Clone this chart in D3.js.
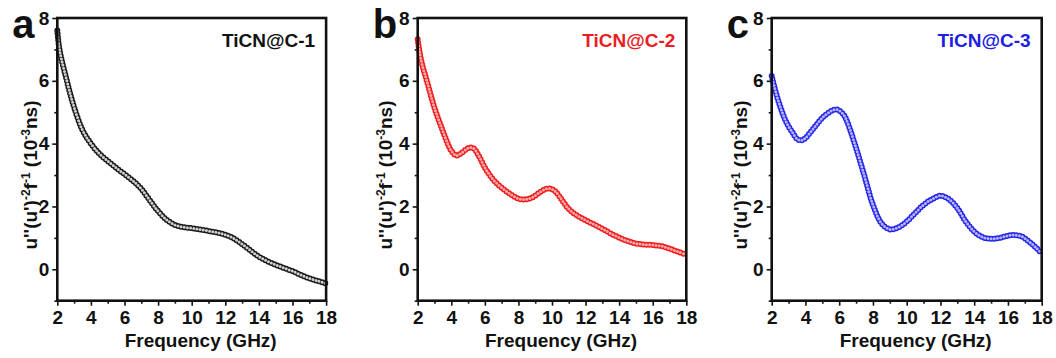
<!DOCTYPE html>
<html lang="en">
<head>
  <meta charset="utf-8">
  <title>TiCN@C</title>
  <style>
    body {
      margin: 0;
      background: #fff;
    }

    svg text {
      font-family: "Liberation Sans", Arial, sans-serif;
      font-weight: bold;
      fill: #111;
    }

    .axis .domain {
      display: none;
    }
  </style>
</head>

<body>
  <svg width="1056" height="358"></svg>
  <script src="https://d3js.org/d3.v7.min.js"></script>
  <script>
    // TiCN@C-1
    var freqA = [2, 2.1, 2.25, 2.5, 2.75, 3, 3.5, 4, 4.5, 5, 5.5, 6, 6.5, 7, 7.5, 8, 8.5, 9, 9.5, 10, 10.5, 11, 11.5, 12, 12.5, 13, 13.5, 14, 14.5, 15, 15.5, 16, 16.5, 17, 17.5, 18];
    var valA = [7.6, 7.1, 6.68, 6.15, 5.62, 5.16, 4.43, 4.0, 3.68, 3.45, 3.23, 3.03, 2.82, 2.56, 2.2, 1.85, 1.58, 1.41, 1.34, 1.31, 1.27, 1.22, 1.17, 1.1, 0.98, 0.8, 0.6, 0.4, 0.26, 0.14, 0.04, -0.06, -0.18, -0.29, -0.37, -0.45];

    // TiCN@C-2
    var freqB = [2, 2.1, 2.25, 2.5, 2.75, 3, 3.25, 3.5, 3.75, 4, 4.3, 4.6, 5, 5.3, 5.6, 6, 6.5, 7, 7.5, 8, 8.4, 8.8, 9.2, 9.6, 9.9, 10.2, 10.6, 11, 11.5, 12, 12.5, 13, 13.5, 14, 14.5, 15, 15.5, 16, 16.5, 17, 17.5, 18];
    var valB = [7.32, 6.95, 6.55, 6.08, 5.6, 5.14, 4.75, 4.4, 4.05, 3.77, 3.62, 3.7, 3.86, 3.86, 3.65, 3.24, 2.85, 2.6, 2.4, 2.25, 2.22, 2.28, 2.42, 2.55, 2.57, 2.48, 2.2, 1.92, 1.71, 1.56, 1.43, 1.29, 1.14, 1.01, 0.9, 0.82, 0.79, 0.77, 0.74, 0.66, 0.56, 0.46];

    // TiCN@C-3
    var freqC = [2, 2.25, 2.5, 2.75, 3, 3.25, 3.5, 3.75, 4, 4.5, 5, 5.5, 5.85, 6.25, 6.5, 7, 7.5, 8, 8.5, 9, 9.5, 10, 10.5, 11, 11.5, 12, 12.5, 13, 13.5, 14, 14.5, 15, 15.5, 16, 16.4, 16.8, 17.2, 17.6, 18];
    var valC = [6.15, 5.62, 5.19, 4.82, 4.55, 4.34, 4.15, 4.1, 4.18, 4.5, 4.82, 5.03, 5.09, 4.93, 4.66, 3.86, 2.96, 2.05, 1.47, 1.27, 1.33, 1.52, 1.79, 2.05, 2.23, 2.34, 2.23, 1.95, 1.52, 1.2, 1.02, 0.97, 1.0, 1.07, 1.09, 1.05, 0.9, 0.72, 0.5];

    var seriesNames = ["TiCN@C-1", "TiCN@C-2", "TiCN@C-3"];
    var panelLetters = ["a", "b", "c"];
    var xTickValues = [2, 4, 6, 8, 10, 12, 14, 16, 18];
    var yTickValues = [0, 2, 4, 6, 8];

    const svg = d3.select("svg");
    const plotTop = 18;
    const plotBottom = 300.7;

    const panels = [
      { left: 57.3, right: 326.1, freq: freqA, val: valA, edge: "#1a1a1a", fill: "#d0d0d0", label: "#111", ylabOff: 20 },
      { left: 417.7, right: 686.3, freq: freqB, val: valB, edge: "#ee1c1c", fill: "#ffaaaa", label: "#ec1c24", ylabOff: 26 },
      { left: 771.7, right: 1041.7, freq: freqC, val: valC, edge: "#2525e6", fill: "#b4b4ff", label: "#2020e0", ylabOff: 25 }
    ];

    panels.forEach(function (p, i) {
      var x = d3.scaleLinear().domain([2, 18]).range([p.left, p.right]);
      var y = d3.scaleLinear().domain([-1, 8]).range([plotBottom, plotTop]);
      var g = svg.append("g");

      // minor + major ticks, outward
      g.append("g").attr("class", "axis")
        .attr("transform", "translate(0," + plotBottom + ")")
        .call(d3.axisBottom(x).tickValues(d3.range(3, 18, 2)).tickSize(3).tickFormat(""));
      g.append("g").attr("class", "axis")
        .attr("transform", "translate(0," + plotBottom + ")")
        .call(d3.axisBottom(x).tickValues(xTickValues).tickSize(5).tickPadding(5))
        .selectAll("text").style("font-size", "19px").attr("fill", "#111");

      g.append("g").attr("class", "axis")
        .attr("transform", "translate(" + p.left + ",0)")
        .call(d3.axisLeft(y).tickValues([-1, 1, 3, 5, 7]).tickSize(3).tickFormat(""));
      g.append("g").attr("class", "axis")
        .attr("transform", "translate(" + p.left + ",0)")
        .call(d3.axisLeft(y).tickValues(yTickValues).tickSize(5).tickPadding(3))
        .selectAll("text").style("font-size", "19px").attr("fill", "#111");

      g.selectAll(".axis line").attr("stroke", "#111").attr("stroke-width", 1.6);

      // data: ring markers drawn as dotted strokes along the curve
      var pts = p.freq.map(function (f, k) { return [f, p.val[k]]; });
      var line = d3.line()
        .x(function (d) { return x(d[0]); })
        .y(function (d) { return y(d[1]); })
        .curve(d3.curveCatmullRom.alpha(0.5));

      g.append("path").datum(pts).attr("d", line)
        .attr("fill", "none").attr("stroke", p.edge)
        .attr("stroke-width", 6).attr("stroke-linecap", "round")
        .attr("stroke-dasharray", "0 3.2");
      g.append("path").datum(pts).attr("d", line)
        .attr("fill", "none").attr("stroke", p.fill)
        .attr("stroke-width", 3).attr("stroke-linecap", "round")
        .attr("stroke-dasharray", "0 3.2");

      // frame
      g.append("rect")
        .attr("x", p.left).attr("y", plotTop)
        .attr("width", p.right - p.left).attr("height", plotBottom - plotTop)
        .attr("fill", "none").attr("stroke", "#111").attr("stroke-width", 2.6);

      // series label
      g.append("text")
        .attr("x", p.right - 11).attr("y", 47)
        .attr("text-anchor", "end")
        .style("font-size", "19px")
        .style("fill", p.label)
        .text(seriesNames[i]);

      // panel letter
      g.append("text")
        .attr("x", p.left - 45).attr("y", 38)
        .style("font-size", "40px")
        .text(panelLetters[i]);

      // x title
      g.append("text")
        .attr("x", (p.left + p.right) / 2 + 9).attr("y", 347)
        .attr("text-anchor", "middle")
        .style("font-size", "19px")
        .text("Frequency (GHz)");

      // y title
      var yt = g.append("text")
        .attr("transform", "translate(" + (p.left - p.ylabOff) + "," + 175 + ") rotate(-90)")
        .attr("text-anchor", "middle")
        .style("font-size", "19px");
      yt.append("tspan").text("u''(u')");
      yt.append("tspan").attr("dy", -7).style("font-size", "12px").text("-2");
      yt.append("tspan").attr("dy", 7).text("f");
      yt.append("tspan").attr("dy", -7).style("font-size", "12px").text("-1");
      yt.append("tspan").attr("dy", 7).text(" (10");
      yt.append("tspan").attr("dy", -7).style("font-size", "12px").text("-3");
      yt.append("tspan").attr("dy", 7).text("ns)");
    });
  </script>
</body>

</html>
